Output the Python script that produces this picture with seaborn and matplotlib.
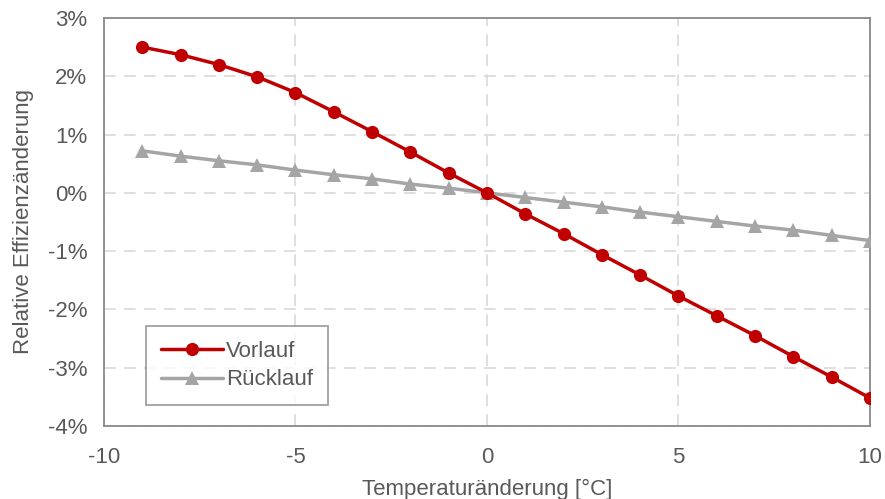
import matplotlib
matplotlib.use("Agg")
import matplotlib.pyplot as plt
import matplotlib.ticker as mticker
import pandas as pd
import seaborn as sns

temp_change = [-9, -8, -7, -6, -5, -4, -3, -2, -1, 0, 1, 2, 3, 4, 5, 6, 7, 8, 9, 10]
vorlauf = [2.50, 2.37, 2.20, 1.99, 1.72, 1.39, 1.05, 0.70, 0.34, 0.00,
           -0.36, -0.70, -1.06, -1.41, -1.77, -2.11, -2.45, -2.81, -3.16, -3.52]
ruecklauf = [0.72, 0.63, 0.55, 0.48, 0.39, 0.31, 0.24, 0.15, 0.08, 0.00,
             -0.08, -0.16, -0.24, -0.33, -0.41, -0.49, -0.57, -0.64, -0.73, -0.82]
series_names = ["Vorlauf", "Rücklauf"]
x_ticks = [-10, -5, 0, 5, 10]
y_ticks = [-4, -3, -2, -1, 0, 1, 2, 3]

df = pd.DataFrame({
    "dT": temp_change * 2,
    "eff": vorlauf + ruecklauf,
    "Reihe": [series_names[0]] * len(temp_change) + [series_names[1]] * len(temp_change),
})

sns.set_theme(style="white")
plt.rcParams["font.family"] = ["Liberation Sans", "DejaVu Sans"]
plt.rcParams["axes.unicode_minus"] = False

text_col = "#595959"
frame_col = "#898989"
grid_col = "#d9d9d9"
fs = 16

fig = plt.figure(figsize=(8.85, 4.99), dpi=100)
ax = fig.add_axes([0.1175, 0.1463, 0.8655, 0.8177])

sns.lineplot(
    data=df, x="dT", y="eff", hue="Reihe", style="Reihe",
    hue_order=series_names, style_order=series_names,
    palette={"Vorlauf": "#c00000", "Rücklauf": "#a5a5a5"},
    markers={"Vorlauf": "o", "Rücklauf": "^"},
    dashes={"Vorlauf": "", "Rücklauf": ""},
    markersize=9.5, markeredgewidth=0, linewidth=2.5, ax=ax,
)
# red series on top of the grey one
lines = ax.get_lines()
if len(lines) >= 2:
    lines[0].set_zorder(4)
    lines[1].set_zorder(3)

ax.set_xlim(-10, 10)
ax.set_ylim(-4, 3)
ax.set_xticks(x_ticks)
ax.set_yticks(y_ticks)
ax.yaxis.set_major_formatter(mticker.FuncFormatter(lambda v, _: f"{v:.0f}%"))
ax.tick_params(axis="both", length=0, labelsize=fs, colors=text_col)
ax.tick_params(axis="y", pad=12)
ax.tick_params(axis="x", pad=15)

ax.grid(True, color=grid_col, linestyle=(0, (7, 5)), linewidth=1.2)
ax.set_axisbelow(True)
for s in ax.spines.values():
    s.set_color(frame_col)
    s.set_linewidth(1.3)

ax.set_xlabel("Temperaturänderung [°C]", fontsize=fs, color=text_col, labelpad=8)
ax.set_ylabel("Relative Effizienzänderung", fontsize=fs, color=text_col, labelpad=10)

leg = ax.legend(
    title=None, loc="lower left", bbox_to_anchor=(0.055, 0.052),
    fontsize=fs, frameon=True, fancybox=False, handlelength=2.8,
    handletextpad=0.15, borderpad=0.65, labelspacing=0.35, borderaxespad=0,
)
leg.get_frame().set_edgecolor(frame_col)
leg.get_frame().set_linewidth(1.3)
for t in leg.get_texts():
    t.set_color(text_col)

fig.savefig("out.png", dpi=100)
